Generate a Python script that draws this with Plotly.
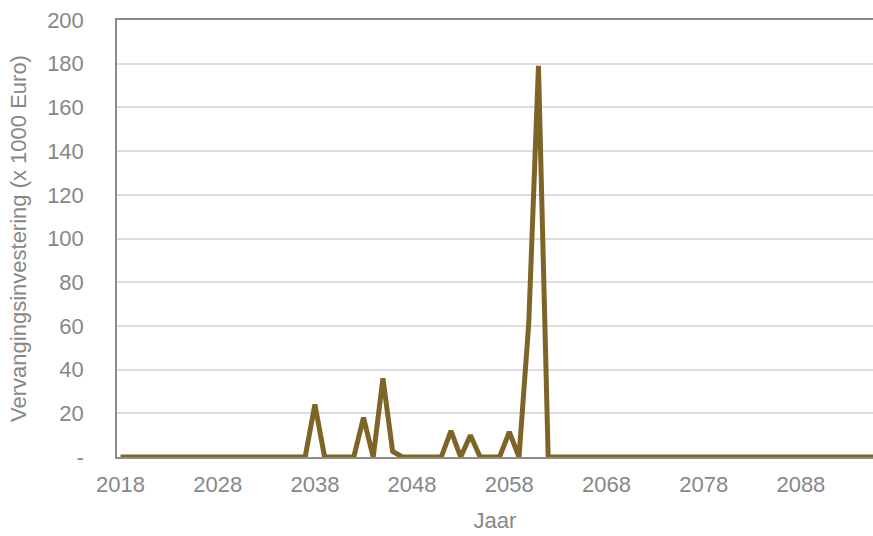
import plotly.graph_objects as go

# Years shown on the category axis
years = list(range(2018, 2098))

# Replacement investment per year (x 1000 Euro); zero unless listed
nonzero = {
    2038: 24,
    2043: 18,
    2045: 36,
    2046: 2.5,
    2052: 12,
    2054: 10,
    2058: 11.5,
    2060: 61,
    2061: 179,
}
investment = [nonzero.get(y, 0) for y in years]

tick_years = [2018, 2028, 2038, 2048, 2058, 2068, 2078, 2088]
y_ticks = list(range(0, 201, 20))
y_tick_text = ["-"] + [str(v) for v in y_ticks[1:]]

text_color = "#878787"
font_family = "Liberation Sans, Arial, sans-serif"
font_size = 22

fig = go.Figure()
fig.add_trace(go.Scatter(
    x=years,
    y=investment,
    mode="lines",
    line=dict(color="#7D6528", width=5),
    showlegend=False,
    hoverinfo="x+y",
))

fig.update_layout(
    width=873,
    height=536,
    margin=dict(l=117, r=0, t=20, b=79),
    paper_bgcolor="white",
    plot_bgcolor="white",
    font=dict(family=font_family, size=font_size, color=text_color),
    xaxis=dict(
        range=[2017.64, 2095.42],
        tickmode="array",
        tickvals=tick_years,
        ticktext=[str(t) for t in tick_years],
        showgrid=False,
        zeroline=False,
        showline=True,
        linecolor="#8c8c8c",
        linewidth=1.5,
        mirror=True,
        ticks="outside",
        ticklen=7,
        tickcolor="rgba(0,0,0,0)",
        tickfont=dict(size=font_size, color=text_color),
        title=dict(text="Jaar", font=dict(size=font_size, color=text_color), standoff=16),
    ),
    yaxis=dict(
        range=[0, 200],
        tickmode="array",
        tickvals=y_ticks,
        ticktext=y_tick_text,
        showgrid=True,
        gridcolor="#dcdcdc",
        gridwidth=1.5,
        zeroline=False,
        showline=True,
        linecolor="#8c8c8c",
        linewidth=1.5,
        ticks="outside",
        ticklen=27,
        tickcolor="rgba(0,0,0,0)",
        tickfont=dict(size=font_size, color=text_color),
        title=dict(text="Vervangingsinvestering (x 1000 Euro)",
                   font=dict(size=font_size, color=text_color), standoff=14),
    ),
)

fig.write_html("out.html")
